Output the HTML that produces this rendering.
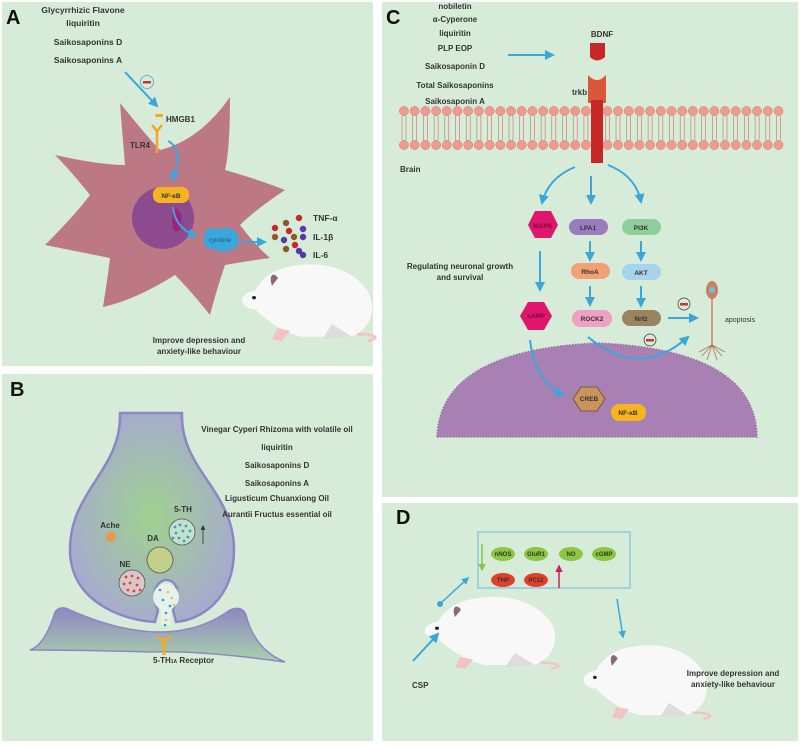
<!DOCTYPE html>
<html><head><meta charset="utf-8"><style>
html,body{margin:0;padding:0;background:#fff}
svg{display:block}
text{font-family:"Liberation Sans",sans-serif;font-weight:bold;fill:#333}
</style></head><body>
<svg width="800" height="748" viewBox="0 0 800 748" xmlns="http://www.w3.org/2000/svg">
<defs>
<marker id="ar" viewBox="0 0 10 10" refX="8" refY="5" markerWidth="5" markerHeight="5" orient="auto"><path d="M0,0L10,5L0,10z" fill="#3aa6dc"/></marker>
<marker id="arg" viewBox="0 0 10 10" refX="8" refY="5" markerWidth="5" markerHeight="5" orient="auto"><path d="M0,0L10,5L0,10z" fill="#8bc34a"/></marker>
<marker id="arr" viewBox="0 0 10 10" refX="8" refY="5" markerWidth="5" markerHeight="5" orient="auto"><path d="M0,0L10,5L0,10z" fill="#d81b60"/></marker>
<marker id="ark" viewBox="0 0 10 10" refX="8" refY="5" markerWidth="6" markerHeight="6" orient="auto"><path d="M0,0L10,5L0,10z" fill="#333"/></marker>
<radialGradient id="gB" cx="0.5" cy="0.5" r="0.6"><stop offset="0" stop-color="#9fd28f"/><stop offset="1" stop-color="#a7a6d6"/></radialGradient>
<linearGradient id="gP" x1="0" y1="0" x2="0" y2="1"><stop offset="0" stop-color="#8e86c4"/><stop offset="1" stop-color="#a7d3a8"/></linearGradient>
<g id="rat">
<path d="M-60,10 C-55,-10 -40,-25 -20,-28 C10,-35 40,-25 55,0 C65,20 60,45 40,55 L-10,55 C-30,50 -45,35 -55,25 Z" fill="#f8f8f8"/>
<ellipse cx="-55" cy="12" rx="15" ry="11" fill="#f8f8f8"/>
<path d="M-40,-5 C-44,-18 -38,-22 -34,-14 Z" fill="#8a6a6a"/>
<circle cx="-58" cy="9" r="2" fill="#222"/>
<path d="M20,40 L40,55 L10,58 Z" fill="#ddd"/>
<path d="M-35,45 L-40,58 L-30,60 L-22,48 Z" fill="#f4c2c2"/>
<path d="M45,52 C62,52 70,56 56,60" stroke="#f4c2c2" stroke-width="3" fill="none"/>
</g>
</defs>
<rect x="2" y="2" width="371" height="364" fill="#d7ecd8"/>
<rect x="2" y="374" width="371" height="367" fill="#d7ecd8"/>
<rect x="382" y="2" width="416" height="495" fill="#d7ecd8"/>
<rect x="382" y="503" width="416" height="238" fill="#d7ecd8"/>

<!-- ===== A ===== -->
<text x="6" y="24" font-size="20" style="fill:#111">A</text>
<g font-size="8.5" text-anchor="middle">
<text x="83" y="13">Glycyrrhizic Flavone</text>
<text x="83" y="26">liquiritin</text>
<text x="88" y="45">Saikosaponins D</text>
<text x="88" y="63">Saikosaponins A</text>
</g>
<line x1="125" y1="72" x2="157" y2="106" stroke="#3aa6dc" stroke-width="2" marker-end="url(#ar)"/>
<circle cx="147" cy="82" r="6.5" fill="none" stroke="#3aa6dc" stroke-width="0.8"/>
<rect x="143" y="81" width="8" height="2.5" fill="#d32f2f"/>
<path d="M120,103 Q150,140 160,150 Q200,140 230,97 Q230,150 225,170 Q260,180 285,190 Q255,210 240,225 Q255,245 270,258 Q240,262 225,265 Q215,295 210,315 Q190,290 175,275 Q135,300 103,307 Q108,275 110,258 Q70,250 45,245 Q75,215 90,195 Q70,170 55,155 Q100,165 125,165 Q122,130 120,103 Z" fill="#bd7886"/>
<circle cx="163" cy="218" r="31" fill="#8b4b8e"/>
<path d="M173,207 Q185,210 180,230 Q172,235 172,220 Z" fill="#a0237a"/>
<rect x="155" y="114" width="8" height="3" rx="1.5" fill="#f5a623"/>
<text x="166" y="122" font-size="8">HMGB1</text>
<path d="M152,125 L157,131 L162,125 M157,131 L157,153" stroke="#f5a623" stroke-width="2.5" fill="none"/>
<text x="130" y="148" font-size="8">TLR4</text>
<path d="M168,141 Q185,150 172,180" stroke="#3aa6dc" stroke-width="2" fill="none" marker-end="url(#ar)"/>
<rect x="153" y="187" width="36" height="16" rx="7" fill="#f8b420"/>
<text x="171" y="198" font-size="6.5" text-anchor="middle">NF-κB</text>
<path d="M173,207 Q175,228 196,236" stroke="#3aa6dc" stroke-width="2" fill="none" marker-end="url(#ar)"/>
<path d="M205,232 Q210,226 220,229 Q230,226 236,232 Q242,240 236,248 Q225,254 215,250 Q202,248 204,240 Z" fill="#3aa6dc"/>
<text x="220" y="242" font-size="6" text-anchor="middle" style="fill:#1d5c80;font-weight:normal">cytokine</text>
<line x1="241" y1="242" x2="265" y2="242" stroke="#3aa6dc" stroke-width="2" marker-end="url(#ar)"/>
<g>
<circle cx="299" cy="218" r="3.2" fill="#c62828"/><circle cx="286" cy="223" r="3.2" fill="#8a5a2b"/>
<circle cx="275" cy="228" r="3.2" fill="#c62828"/><circle cx="303" cy="229" r="3.2" fill="#5e35b1"/>
<circle cx="289" cy="231" r="3.2" fill="#c62828"/><circle cx="275" cy="237" r="3.2" fill="#8a5a2b"/>
<circle cx="284" cy="240" r="3.2" fill="#5e35b1"/><circle cx="294" cy="237" r="3.2" fill="#8a5a2b"/>
<circle cx="303" cy="237" r="3.2" fill="#5e35b1"/><circle cx="295" cy="245" r="3.2" fill="#c62828"/>
<circle cx="286" cy="249" r="3.2" fill="#8a5a2b"/><circle cx="299" cy="251" r="3.2" fill="#5e35b1"/>
<circle cx="303" cy="255" r="3.2" fill="#5e35b1"/>
</g>
<g font-size="8.5"><text x="313" y="221">TNF-α</text><text x="313" y="240">IL-1β</text><text x="313" y="258">IL-6</text></g>
<use href="#rat" transform="translate(312,290) scale(1,0.85)"/>
<g font-size="8" text-anchor="middle"><text x="199" y="343">Improve depression and</text><text x="199" y="354">anxiety-like behaviour</text></g>

<!-- ===== B ===== -->
<text x="10" y="396" font-size="20" style="fill:#111">B</text>
<path d="M30,650 Q45,645 55,612 Q60,605 70,610 Q120,632 160,632 Q200,632 230,610 Q242,605 246,615 Q255,650 285,662 Q200,650 150,652 Q80,650 30,650 Z" fill="url(#gP)" stroke="#8e86c4" stroke-width="1.5"/>
<path d="M120,413 C122,470 70,490 70,550 C70,600 120,620 155,622 L158,610 C148,590 160,580 166,580 C176,580 182,592 173,610 L176,622 C200,620 234,600 234,550 C234,490 180,470 182,413 Z" fill="url(#gB)" stroke="#8e86c4" stroke-width="2.5"/>
<circle cx="166" cy="597" r="13" fill="#e6f1ec"/>
<rect x="161" y="600" width="10" height="25" fill="#e6f1ec"/>
<path d="M158,636 L164,642 L170,636 M164,642 L164,655" stroke="#f5a623" stroke-width="3" fill="none"/>
<g fill="#2a9fd6"><circle cx="160" cy="590" r="1.3"/><circle cx="163" cy="600" r="1.3"/><circle cx="166" cy="613" r="1.3"/><circle cx="165" cy="625" r="1.3"/><circle cx="170" cy="606" r="1.3"/></g>
<g fill="#e0c050"><circle cx="168" cy="592" r="1.3"/><circle cx="172" cy="598" r="1.3"/><circle cx="174" cy="605" r="1.3"/><circle cx="166" cy="620" r="1.3"/></g>
<text x="110" y="528" font-size="8" text-anchor="middle">Ache</text>
<circle cx="111" cy="537" r="5" fill="#e79a48"/>
<text x="183" y="512" font-size="8" text-anchor="middle">5-TH</text>
<circle cx="182" cy="532" r="13" fill="#c8e0c8" stroke="#555" stroke-width="0.8"/>
<g fill="#2a9fd6"><circle cx="175" cy="527" r="1.4"/><circle cx="180" cy="525" r="1.4"/><circle cx="186" cy="526" r="1.4"/><circle cx="190" cy="531" r="1.4"/><circle cx="176" cy="533" r="1.4"/><circle cx="183" cy="531" r="1.4"/><circle cx="188" cy="537" r="1.4"/><circle cx="179" cy="538" r="1.4"/><circle cx="184" cy="541" r="1.4"/><circle cx="173" cy="538" r="1.4"/></g>
<line x1="203" y1="544" x2="203" y2="526" stroke="#333" stroke-width="0.8" marker-end="url(#ark)"/>
<text x="153" y="541" font-size="8" text-anchor="middle">DA</text>
<circle cx="160" cy="560" r="13" fill="#c4cf8a" stroke="#555" stroke-width="0.8"/>
<text x="125" y="567" font-size="8" text-anchor="middle">NE</text>
<circle cx="132" cy="583" r="13" fill="#d8c6cc" stroke="#555" stroke-width="0.8"/>
<g fill="#d84a2a"><circle cx="126" cy="577" r="1.4"/><circle cx="132" cy="576" r="1.4"/><circle cx="138" cy="578" r="1.4"/><circle cx="124" cy="584" r="1.4"/><circle cx="130" cy="583" r="1.4"/><circle cx="137" cy="585" r="1.4"/><circle cx="128" cy="590" r="1.4"/><circle cx="134" cy="591" r="1.4"/><circle cx="140" cy="590" r="1.4"/></g>
<text x="153" y="663" font-size="8">5-TH<tspan font-size="5">1A</tspan>  Receptor</text>
<g font-size="8" text-anchor="middle">
<text x="277" y="432">Vinegar Cyperi Rhizoma with volatile oil</text>
<text x="277" y="450">liquiritin</text>
<text x="277" y="468">Saikosaponins D</text>
<text x="277" y="486">Saikosaponins A</text>
<text x="277" y="501">Ligusticum Chuanxiong Oil</text>
<text x="277" y="517">Aurantii Fructus essential oil</text>
</g>

<!-- ===== C ===== -->
<text x="386" y="24" font-size="20" style="fill:#111">C</text>
<g font-size="8" text-anchor="middle">
<text x="455" y="9">nobiletin</text><text x="455" y="22">α-Cyperone</text><text x="455" y="36">liquiritin</text>
<text x="455" y="51">PLP EOP</text><text x="455" y="69">Saikosaponin D</text><text x="455" y="88">Total Saikosaponins</text>
<text x="455" y="104">Saikosaponin A</text>
</g>
<line x1="508" y1="55" x2="553" y2="55" stroke="#3aa6dc" stroke-width="2" marker-end="url(#ar)"/>
<text x="602" y="37" font-size="8" text-anchor="middle">BDNF</text>
<path d="M590,43 L605,43 L605,57 Q597,64 590,57 Z" fill="#c62828"/>
<text x="572" y="95" font-size="8">trkb</text>
<path d="M588,75 Q597,85 606,75 L606,103 L588,103 Z" fill="#d9573a"/>
<g id="lip"></g>
<rect x="591" y="100" width="12" height="63" fill="#c62828"/>
<text x="400" y="172" font-size="8">Brain</text>
<path d="M575,167 Q548,178 542,203" stroke="#3aa6dc" stroke-width="2" fill="none" marker-end="url(#ar)"/>
<line x1="591" y1="176" x2="591" y2="203" stroke="#3aa6dc" stroke-width="2" marker-end="url(#ar)"/>
<path d="M608,165 Q636,176 641,202" stroke="#3aa6dc" stroke-width="2" fill="none" marker-end="url(#ar)"/>
<polygon points="535,211 551,211 558,225 551,238 535,238 528,225" fill="#e0156e"/>
<text x="543" y="228" font-size="6.5" text-anchor="middle" style="fill:#7a0a3a">MAPK</text>
<rect x="569" y="219" width="39" height="16" rx="8" fill="#9b7bbf"/><text x="588" y="230" font-size="6.5" text-anchor="middle">LPA1</text>
<rect x="622" y="219" width="39" height="16" rx="8" fill="#8fcf9c"/><text x="641" y="230" font-size="6.5" text-anchor="middle">PI3K</text>
<line x1="540" y1="251" x2="540" y2="290" stroke="#3aa6dc" stroke-width="2" marker-end="url(#ar)"/>
<line x1="590" y1="241" x2="590" y2="260" stroke="#3aa6dc" stroke-width="2" marker-end="url(#ar)"/>
<line x1="641" y1="241" x2="641" y2="260" stroke="#3aa6dc" stroke-width="2" marker-end="url(#ar)"/>
<rect x="571" y="263" width="39" height="16" rx="8" fill="#f2a074"/><text x="590" y="274" font-size="6.5" text-anchor="middle">RhoA</text>
<rect x="622" y="264" width="39" height="16" rx="8" fill="#a6d4ea"/><text x="641" y="275" font-size="6.5" text-anchor="middle">AKT</text>
<line x1="590" y1="286" x2="590" y2="305" stroke="#3aa6dc" stroke-width="2" marker-end="url(#ar)"/>
<line x1="641" y1="286" x2="641" y2="306" stroke="#3aa6dc" stroke-width="2" marker-end="url(#ar)"/>
<rect x="572" y="310" width="40" height="17" rx="8" fill="#eea0c2"/><text x="592" y="321" font-size="6.5" text-anchor="middle">ROCK2</text>
<rect x="622" y="310" width="39" height="16" rx="8" fill="#9a8460"/><text x="641" y="321" font-size="6.5" text-anchor="middle">Nrf2</text>
<polygon points="528,302 544,302 552,316 544,330 528,330 520,316" fill="#e0156e"/>
<text x="536" y="318" font-size="6.5" text-anchor="middle" style="fill:#7a0a3a">cAMP</text>
<g font-size="8" text-anchor="middle"><text x="460" y="269">Regulating neuronal growth</text><text x="460" y="280">and survival</text></g>
<line x1="668" y1="318" x2="697" y2="318" stroke="#3aa6dc" stroke-width="2" marker-end="url(#ar)"/>
<circle cx="684" cy="304" r="6" fill="none" stroke="#333" stroke-width="0.7"/><rect x="680" y="303" width="8" height="2.5" fill="#d32f2f"/>
<circle cx="650" cy="340" r="6" fill="none" stroke="#333" stroke-width="0.7"/><rect x="646" y="339" width="8" height="2.5" fill="#d32f2f"/>
<ellipse cx="712" cy="290" rx="6" ry="9" fill="#c8806a"/><circle cx="712" cy="290" r="3" fill="#6ac6d0"/>
<line x1="712" y1="298" x2="712" y2="345" stroke="#c8806a" stroke-width="1.5"/>
<path d="M712,345 L702,356 M712,345 L722,356 M712,345 L707,360 M712,345 L717,360 M712,345 L699,352 M712,345 L725,352" stroke="#b07050" stroke-width="0.8"/>
<text x="725" y="322" font-size="7" style="font-weight:normal">apoptosis</text>
<path d="M437,437 Q440,350 598,343 Q756,350 757,437 Z" fill="#a880b4" stroke="#9a70a8" stroke-width="1.5" stroke-dasharray="1.5,1.5"/>
<path d="M530,340 Q535,382 563,395" stroke="#3aa6dc" stroke-width="2" fill="none" marker-end="url(#ar)"/>
<path d="M588,337 Q640,380 688,337" stroke="#3aa6dc" stroke-width="2" fill="none" marker-end="url(#ar)"/>
<polygon points="581,387 597,387 605,399 597,411 581,411 573,399" fill="#c9955c" stroke="#6a4a2a" stroke-width="0.8"/>
<text x="589" y="401" font-size="6.5" text-anchor="middle">CREB</text>
<rect x="611" y="404" width="35" height="17" rx="8" fill="#f8b420"/><text x="628" y="415" font-size="6.5" text-anchor="middle">NF-κB</text>

<!-- ===== D ===== -->
<text x="396" y="524" font-size="20" style="fill:#111">D</text>
<use href="#rat" transform="translate(495,621) scale(1,0.8)"/>
<use href="#rat" transform="translate(650,670) scale(0.95,0.82)"/>
<rect x="478" y="532" width="152" height="56" fill="none" stroke="#7fbfe0" stroke-width="1.2"/>
<g font-size="6" text-anchor="middle">
<ellipse cx="503" cy="554" rx="12" ry="7" fill="#8dc63f"/><text x="503" y="556">nNOS</text>
<ellipse cx="536" cy="554" rx="12" ry="7" fill="#8dc63f"/><text x="536" y="556">GluR1</text>
<ellipse cx="571" cy="554" rx="12" ry="7" fill="#8dc63f"/><text x="571" y="556">NO</text>
<ellipse cx="604" cy="554" rx="12" ry="7" fill="#8dc63f"/><text x="604" y="556">cGMP</text>
<ellipse cx="503" cy="580" rx="12" ry="7" fill="#e0402a"/><text x="503" y="582">THP</text>
<ellipse cx="536" cy="580" rx="12" ry="7" fill="#e0402a"/><text x="536" y="582">PC12</text>
</g>
<line x1="482" y1="544" x2="482" y2="570" stroke="#8bc34a" stroke-width="1.5" marker-end="url(#arg)"/>
<line x1="559" y1="588" x2="559" y2="566" stroke="#d81b60" stroke-width="1.5" marker-end="url(#arr)"/>
<circle cx="440" cy="604" r="3" fill="#3aa6dc"/>
<line x1="441" y1="603" x2="468" y2="578" stroke="#3aa6dc" stroke-width="1.5" marker-end="url(#ar)"/>
<line x1="413" y1="661" x2="438" y2="634" stroke="#3aa6dc" stroke-width="2" marker-end="url(#ar)"/>
<line x1="617" y1="599" x2="623" y2="637" stroke="#3aa6dc" stroke-width="1.5" marker-end="url(#ar)"/>
<text x="412" y="688" font-size="8">CSP</text>
<g font-size="8" text-anchor="middle"><text x="733" y="676">Improve depression and</text><text x="733" y="687">anxiety-like behaviour</text></g>
</svg>
<script>
(function(){
var ns="http://www.w3.org/2000/svg",g=document.getElementById("lip");
for(var x=404;x<=785;x+=10.7){
 var l=document.createElementNS(ns,"rect");l.setAttribute("x",x-2);l.setAttribute("y",115);l.setAttribute("width",4);l.setAttribute("height",26);l.setAttribute("rx",2);l.setAttribute("fill","none");l.setAttribute("stroke","#c96d62");l.setAttribute("stroke-width","0.6");g.appendChild(l);
 [111,145].forEach(function(y){var c=document.createElementNS(ns,"circle");c.setAttribute("cx",x);c.setAttribute("cy",y);c.setAttribute("r",4.6);c.setAttribute("fill","#ee9a8e");c.setAttribute("stroke","#d07a70");c.setAttribute("stroke-width","0.5");g.appendChild(c);});
}
})();
</script>
</body></html>
